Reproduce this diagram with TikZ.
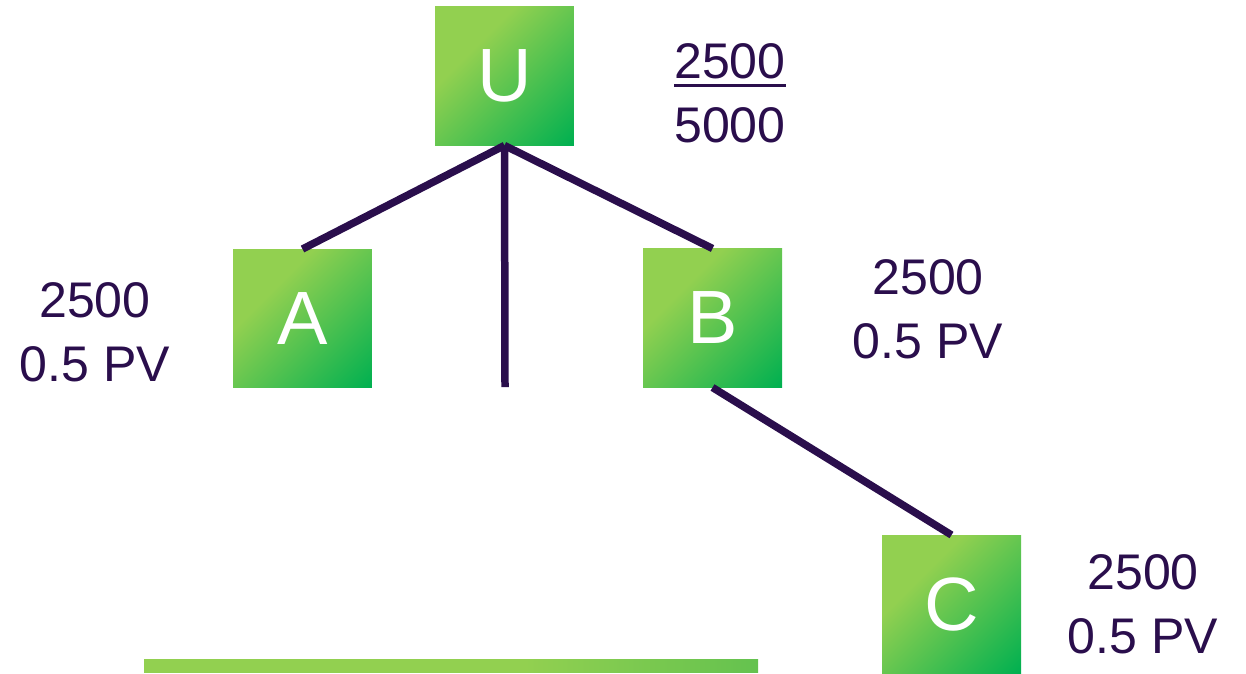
\documentclass[tikz,border=0pt]{standalone}
\usepackage{fontspec}
\setmainfont{Liberation Sans}

\definecolor{verdeclaro}{HTML}{92D050}
\definecolor{verdeescuro}{HTML}{00B050}
\definecolor{verdefim}{HTML}{64C24F}
\definecolor{roxo}{HTML}{2A0E4C}

\pgfdeclareverticalshading{verdecaixa}{100bp}{color(0bp)=(verdeescuro); color(15bp)=(verdeescuro);
  color(65bp)=(verdeclaro); color(100bp)=(verdeclaro)}
\pgfdeclarehorizontalshading{verdebarra}{100bp}{color(0bp)=(verdeclaro); color(56bp)=(verdeclaro);
  color(75bp)=(verdefim); color(100bp)=(verdefim)}

\newcommand{\sublinha}[1]{\setbox0\hbox{#1}\rlap{\rule[-0.17cm]{\wd0}{0.06cm}}\box0}

\begin{document}
\begin{tikzpicture}[x=0.02cm, y=-0.02cm]
\tikzset{ inner sep=0pt, outer sep=0pt,
  caixa/.style={minimum size=2.78cm, shade, shading=verdecaixa, shading angle=45,
                text=white, font=\fontsize{43}{43}\selectfont},
  valor/.style={text=roxo, align=center, anchor=base,
                font=\fontsize{28.5}{36.4}\selectfont},
  ramo/.style={draw=roxo, line width=0.15cm},
}

\useasboundingbox (0,0) rectangle (1246,673);

%\draw [lightgray, dashed] (0,0) grid[step=100] (1246,673);

\node [caixa] (U) at (504.5,76.0)  {U};
\node [caixa] (A) at (302.5,318.5) {A};
\node [caixa] (B) at (712.5,318.0) {B};
\node [caixa] (C) at (951.5,604.5) {C};

\coordinate (meio) at (505,387);

% ramos
\draw [ramo] (U.south) -- (A.north);
\draw [ramo] (U.south) -- (meio);
\draw [ramo] (U.south) -- (B.north);
\draw [ramo] (B.south) -- (C.north);

% valores (ancora na linha de baixo)
\node [valor] (vU) at (730,142)  {\sublinha{2500}\\5000};
\node [valor] (vA) at (95,381)   {2500\\0.5 PV};
\node [valor] (vB) at (928,358)  {2500\\0.5 PV};
\node [valor] (vC) at (1143,653) {2500\\0.5 PV};

% barra
\shade [shading=verdebarra] (144,659) rectangle (758,672);

\end{tikzpicture}
\end{document}
